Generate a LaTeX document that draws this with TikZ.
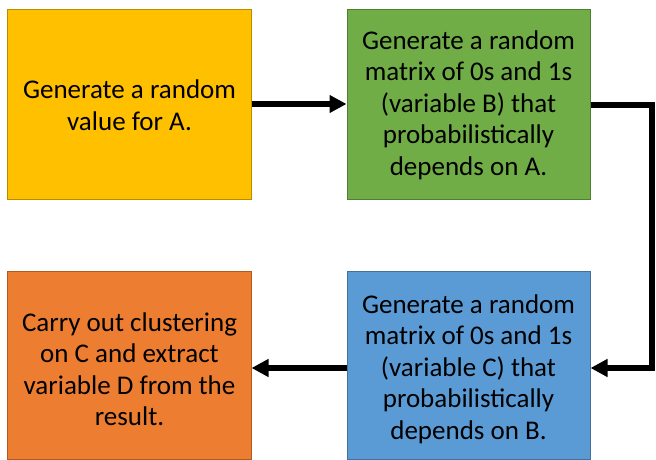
\documentclass[tikz,border=0pt]{standalone}
\usepackage{fontspec}
\setmainfont{Carlito}
\usetikzlibrary{arrows.meta}
\definecolor{cyel}{HTML}{FFC000}
\definecolor{cyelB}{HTML}{BC8C00}
\definecolor{cgrn}{HTML}{70AD47}
\definecolor{cgrnB}{HTML}{507E32}
\definecolor{cblu}{HTML}{5B9BD5}
\definecolor{cbluB}{HTML}{41719C}
\definecolor{cora}{HTML}{ED7D31}
\definecolor{coraB}{HTML}{AE5A21}
\tikzset{
  stepbox/.style={draw, line width=1bp, minimum width=243bp, inner sep=0pt},
  steptext/.style={align=center, inner sep=0pt, font=\fontsize{27bp}{31.5bp}\selectfont},
  flow/.style={line width=5.5bp, -{Triangle[length=17bp,width=17bp]}},
}
\begin{document}
\begin{tikzpicture}[x=1bp,y=-1bp]
\useasboundingbox (0,0) rectangle (656,460);
\node[stepbox, fill=cyel, draw=cyelB, minimum height=190bp] (a) at (129.5,105) {};
\node[stepbox, fill=cgrn, draw=cgrnB, minimum height=190bp] (b) at (468.5,105) {};
\node[stepbox, fill=cblu, draw=cbluB, minimum height=187bp] (c) at (468.5,365.5) {};
\node[stepbox, fill=cora, draw=coraB, minimum height=187bp] (d) at (129.5,365.5) {};
\node[steptext] (at) at (129.5,105) {Generate a random\\value for A.};
\node[steptext] (bt) at (468.5,105) {Generate a random\\matrix of 0s and 1s\\(variable B) that\\probabilistically\\depends on A.};
\node[steptext] (ct) at (468.5,369) {Generate a random\\matrix of 0s and 1s\\(variable C) that\\probabilistically\\depends on B.};
\node[steptext] (dt) at (129.5,369) {Carry out clustering\\on C and extract\\variable D from the\\result.};
\coordinate (r1) at (652,105);
\coordinate (r2) at (652,368);
\draw[flow] (a.east |- 0,104) -- (b.west |- 0,104);
\draw[flow, line join=miter] (b.east |- r1) -- (r1) -- (r2) -- (c.east |- r2);
\draw[flow] (c.west |- r2) -- (d.east |- r2);
\end{tikzpicture}
\end{document}
